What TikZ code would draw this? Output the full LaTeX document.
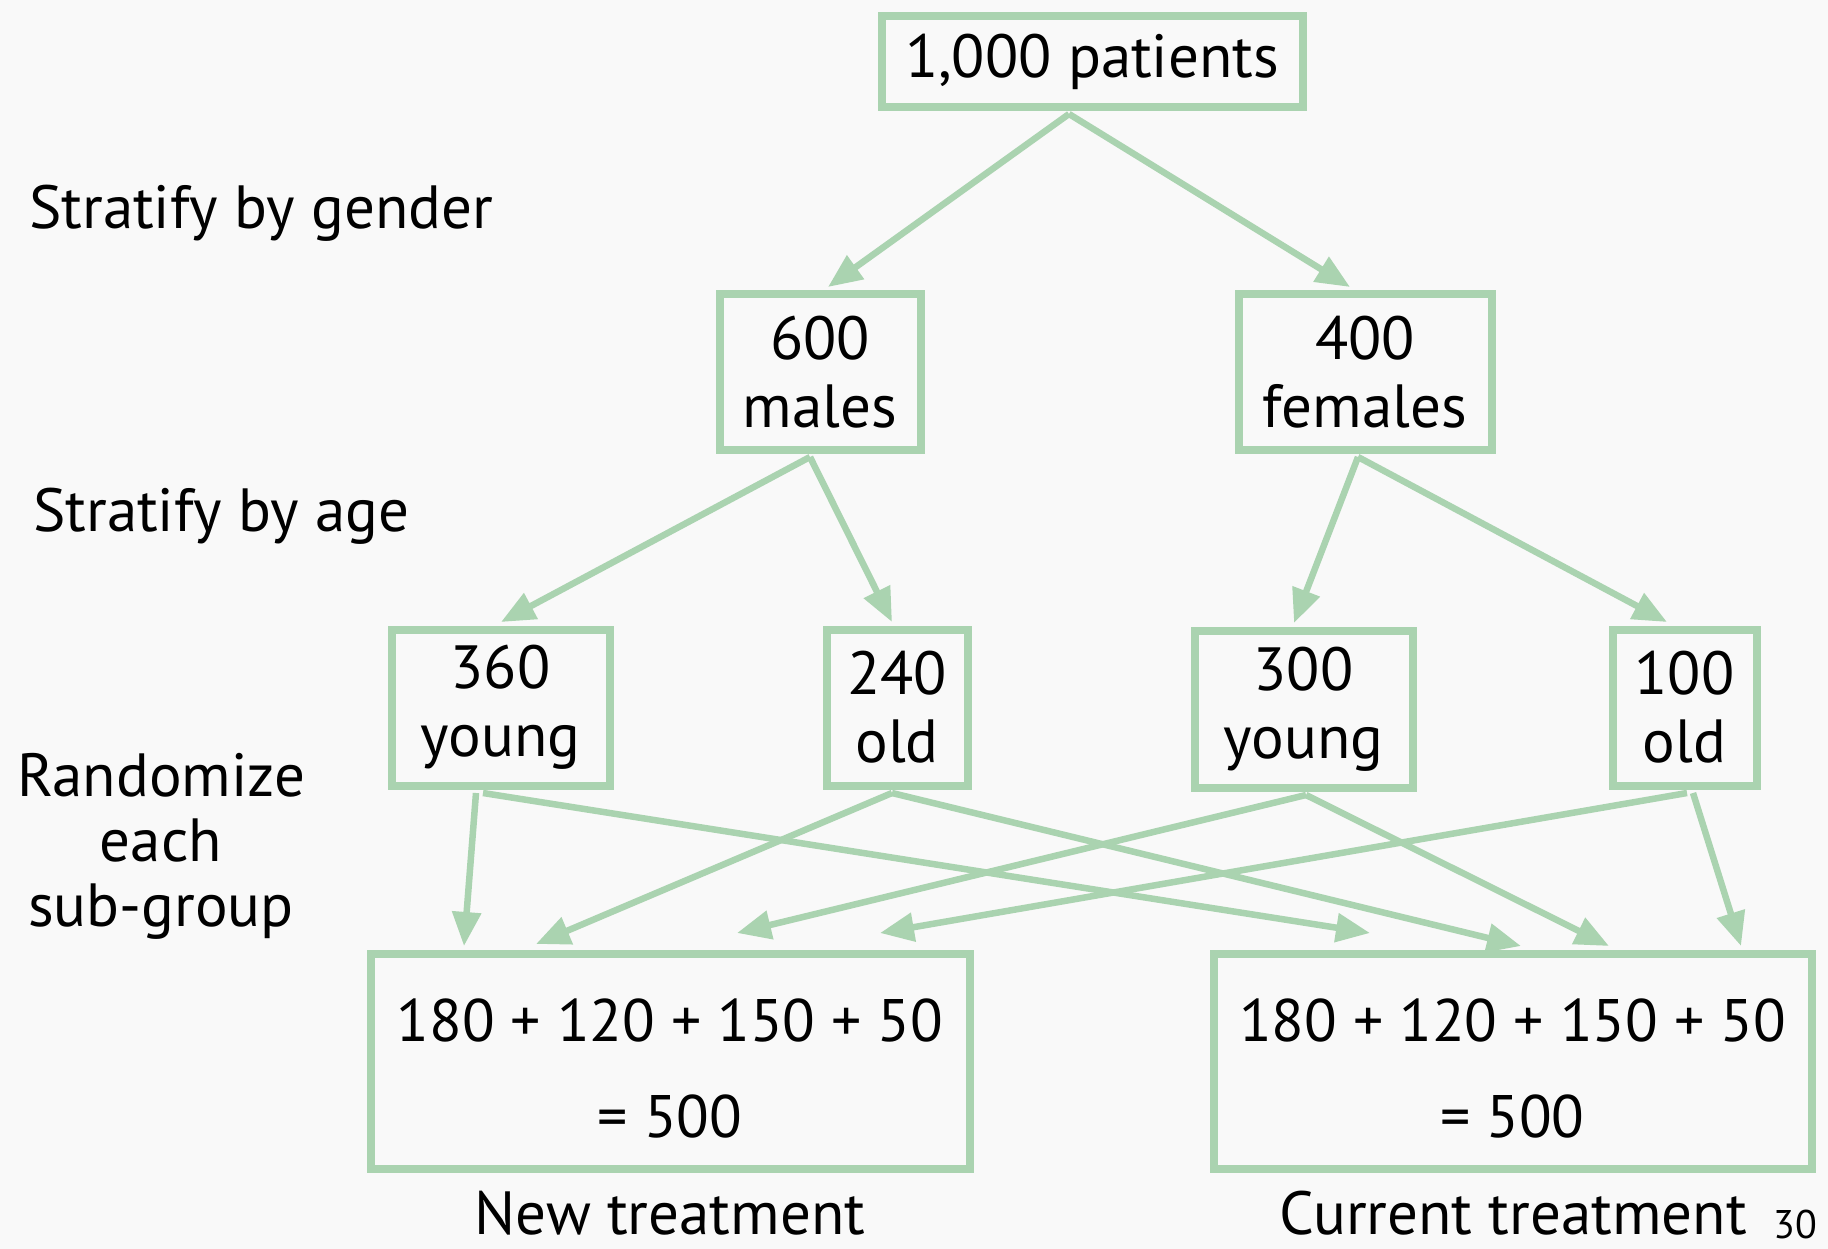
\documentclass[tikz,border=0pt]{standalone}
\usepackage{fontspec}
\setmainfont{PT Sans}
\usetikzlibrary{arrows.meta}
\definecolor{grn}{RGB}{170,211,176}
\definecolor{bg}{RGB}{249,249,249}
\tikzset{
  box/.style={draw=grn, line width=8pt, align=center, inner sep=0pt, font=\fontsize{61}{68}\selectfont},
  bigbox/.style={box, minimum height=215pt, font=\fontsize{60}{96}\selectfont},
  conn/.style={draw=grn, line width=6.5pt, -{Triangle[length=34pt,width=28pt]}},
  lbl/.style={align=center, inner sep=0pt, font=\fontsize{61}{66}\selectfont},
}
\begin{document}
\begin{tikzpicture}[x=1pt,y=-1pt]
\fill[bg] (0,0) rectangle (1828,1249);
\useasboundingbox (0,0) rectangle (1828,1249);
% boxes
\node[box, minimum width=421pt, minimum height=91pt] (top) at (1092,62) {1,000 patients};
\node[box, minimum width=201pt, minimum height=155pt] (males) at (820,372) {600\\males};
\node[box, minimum width=253pt, minimum height=155pt] (females) at (1365,372) {400\\females};
\node[box, minimum width=218pt, minimum height=156pt] (y360) at (500.5,707.5) {360\\young};
\node[box, minimum width=141pt, minimum height=156pt] (o240) at (897,707.5) {240\\old};
\node[box, minimum width=218pt, minimum height=157pt] (y300) at (1303.5,709) {300\\young};
\node[box, minimum width=144pt, minimum height=156pt] (o100) at (1684.5,707.5) {100\\old};
\node[bigbox, minimum width=599pt] (new) at (670,1061) {\rule{0pt}{58pt}180 + 120 + 150 + 50\\= 500};
\node[bigbox, minimum width=598pt] (cur) at (1512.5,1061) {\rule{0pt}{58pt}180 + 120 + 150 + 50\\= 500};
% labels
\node[lbl, anchor=west] (lg) at (29,213) {Stratify by gender};
\node[lbl, anchor=west] (la) at (33,516) {Stratify by age};
\node[lbl, font=\fontsize{61}{65}\selectfont] (lr) at (161,846) {Randomize\\each\\sub-group};
\node[lbl] (lnew) at (670,1213) {New treatment};
\node[lbl] (lcur) at (1513,1213) {Current treatment};
\node[lbl, font=\fontsize{40}{44}\selectfont] (pg) at (1795,1224) {30};
% connector end coordinates
\coordinate (tS) at (1069,114);
\coordinate (mS) at (810,457);
\coordinate (fS) at (1358,457);
\coordinate (yS1) at (476,793);
\coordinate (yS2) at (483,793);
\coordinate (oS) at (892,793);
\coordinate (y3S) at (1306,795);
\coordinate (o1S1) at (1687,793);
\coordinate (o1S2) at (1693,793);
\coordinate (e1) at (828,287);
\coordinate (e2) at (1350,287);
\coordinate (e3) at (501,622);
\coordinate (e4) at (892,622);
\coordinate (e5) at (1294,623);
\coordinate (e6) at (1667,622);
\coordinate (n1) at (464,946);
\coordinate (n2) at (536,944);
\coordinate (n3) at (737,933);
\coordinate (n4) at (880,933);
\coordinate (c1) at (1370,933);
\coordinate (c2) at (1521,946);
\coordinate (c3) at (1609,946);
\coordinate (c4) at (1741,946);
% connectors
\draw[conn] (tS) -- (e1);
\draw[conn] (tS) -- (e2);
\draw[conn] (mS) -- (e3);
\draw[conn] (mS) -- (e4);
\draw[conn] (fS) -- (e5);
\draw[conn] (fS) -- (e6);
\draw[conn] (yS1) -- (n1);
\draw[conn] (yS2) -- (c1);
\draw[conn] (oS) -- (n2);
\draw[conn] (oS) -- (c2);
\draw[conn] (y3S) -- (n3);
\draw[conn] (y3S) -- (c3);
\draw[conn] (o1S1) -- (n4);
\draw[conn] (o1S2) -- (c4);
\end{tikzpicture}
\end{document}
